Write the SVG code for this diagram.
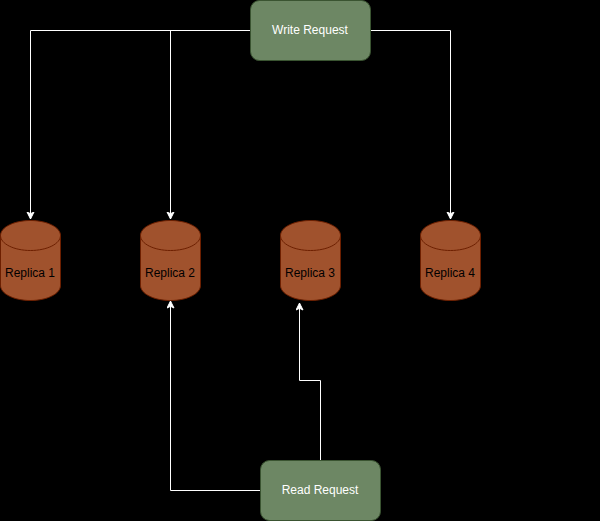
<svg xmlns="http://www.w3.org/2000/svg" width="600" height="521" viewBox="0 0 600 521">
<defs>
<style>
.box{fill:#6d8764;stroke:#3a5431;stroke-width:1}
.cyl{fill:#a0522d;stroke:#6d1f00;stroke-width:1}
.lid{fill:none;stroke:#6d1f00;stroke-width:1}
.edge{fill:none;stroke:#fff;stroke-width:1;marker-end:url(#arrow)}
text{font-family:"Liberation Sans",Arial,sans-serif;font-size:12px;text-anchor:middle}
.lw{fill:#fff}
.lb{fill:#000}
</style>
<marker id="arrow" markerUnits="userSpaceOnUse" markerWidth="10" markerHeight="10" refX="7.5" refY="4" orient="auto">
<path d="M0.500 0.500L7.500 4L0.500 7.500L2.200 4Z" fill="#fff" stroke="#fff" stroke-width="1"/>
</marker>
</defs>
<rect width="600" height="521" fill="#000"/>
<g id="connectors">
<path class="edge" d="M250.500 30.500H30.500V219"/>
<path class="edge" d="M250.500 30.500H170.500V219"/>
<path class="edge" d="M370.500 30.500H450.500V219"/>
<path class="edge" d="M260.500 490.500H170.500V301"/>
<path class="edge" d="M320.500 460.500V380.500H299.500V303"/>
</g>
<g id="write-request"><rect class="box" x="250.500" y="0.500" width="120" height="60" rx="9" ry="9"/><text class="lw" x="310" y="34">Write Request</text></g>
<g id="replica-1"><path class="cyl" d="M0.500 235.500C0.500 227.200 14 220.500 30.500 220.500C47 220.500 60.500 227.200 60.500 235.500V285.500C60.500 293.800 47 300.500 30.500 300.500C14 300.500 0.500 293.800 0.500 285.500Z"/><path class="lid" d="M0.500 235.500C0.500 243.800 14 250.500 30.500 250.500C47 250.500 60.500 243.800 60.500 235.500"/><text class="lb" x="30" y="277">Replica 1</text></g>
<g id="replica-2"><path class="cyl" d="M140.500 235.500C140.500 227.200 154 220.500 170.500 220.500C187 220.500 200.500 227.200 200.500 235.500V285.500C200.500 293.800 187 300.500 170.500 300.500C154 300.500 140.500 293.800 140.500 285.500Z"/><path class="lid" d="M140.500 235.500C140.500 243.800 154 250.500 170.500 250.500C187 250.500 200.500 243.800 200.500 235.500"/><text class="lb" x="170" y="277">Replica 2</text></g>
<g id="replica-3"><path class="cyl" d="M280.500 235.500C280.500 227.200 294 220.500 310.500 220.500C327 220.500 340.500 227.200 340.500 235.500V285.500C340.500 293.800 327 300.500 310.500 300.500C294 300.500 280.500 293.800 280.500 285.500Z"/><path class="lid" d="M280.500 235.500C280.500 243.800 294 250.500 310.500 250.500C327 250.500 340.500 243.800 340.500 235.500"/><text class="lb" x="310" y="277">Replica 3</text></g>
<g id="replica-4"><path class="cyl" d="M420.500 235.500C420.500 227.200 434 220.500 450.500 220.500C467 220.500 480.500 227.200 480.500 235.500V285.500C480.500 293.800 467 300.500 450.500 300.500C434 300.500 420.500 293.800 420.500 285.500Z"/><path class="lid" d="M420.500 235.500C420.500 243.800 434 250.500 450.500 250.500C467 250.500 480.500 243.800 480.500 235.500"/><text class="lb" x="450" y="277">Replica 4</text></g>
<g id="read-request"><rect class="box" x="260.500" y="460.500" width="120" height="60" rx="9" ry="9"/><text class="lw" x="320" y="494">Read Request</text></g>
</svg>
